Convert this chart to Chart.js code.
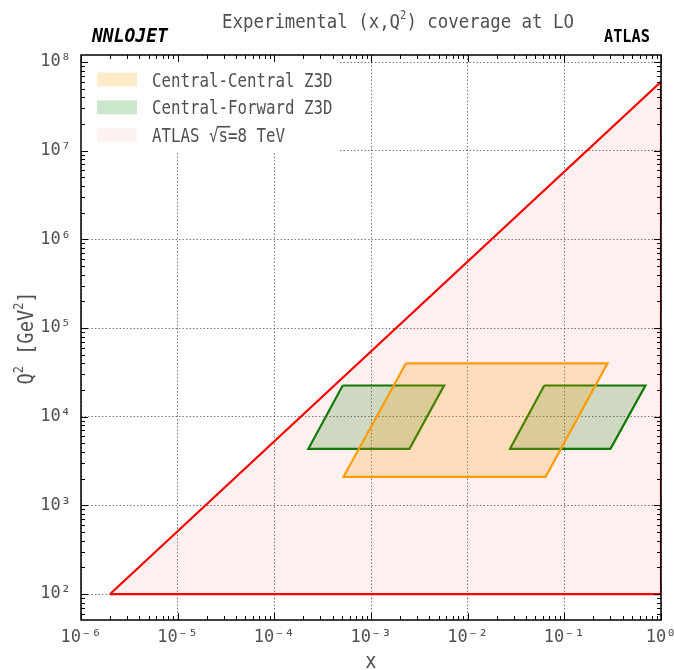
<!DOCTYPE html>
<html><head><meta charset="utf-8">
<script src="https://cdn.jsdelivr.net/npm/chart.js@4.4.1/dist/chart.umd.min.js"></script>
<style>html,body{margin:0;padding:0;background:#fff}#wrap{width:674px;height:670px}</style>
</head><body><div id="wrap"><canvas id="c" width="674" height="670"></canvas></div>
<script>
const FONT = "'DejaVu Sans Mono', 'Liberation Mono', monospace";

// ---- axis ticks ----
const xDecades = [1e-6, 1e-5, 1e-4, 1e-3, 1e-2, 1e-1, 1];
const xTickLabels = ['10⁻⁶', '10⁻⁵', '10⁻⁴', '10⁻³', '10⁻²', '10⁻¹', '10⁰'];
const yDecades = [1e2, 1e3, 1e4, 1e5, 1e6, 1e7, 1e8];
const yTickLabels = ['10²', '10³', '10⁴', '10⁵', '10⁶', '10⁷', '10⁸'];
const xLimits = [1e-6, 1];
const yLimits = [51, 1.2e8];

// ---- series (closed polygons: x, Q^2) ----
const atlasX  = [2e-6, 1, 1, 2e-6];
const atlasQ2 = [100, 6e7, 100, 100];

const ccX  = [2.3e-3, 0.28, 0.064, 5.2e-4, 2.3e-3];
const ccQ2 = [4.0e4, 4.0e4, 2.1e3, 2.1e3, 4.0e4];

const cfLowX  = [5.1e-4, 5.7e-3, 2.5e-3, 2.25e-4, 5.1e-4];
const cfHighX = [0.062, 0.69, 0.30, 0.0274, 0.062];
const cfQ2    = [2.25e4, 2.25e4, 4.35e3, 4.35e3, 2.25e4];

const seriesNames = ['Central-Central Z3D', 'Central-Forward Z3D', 'ATLAS √s=8 TeV'];

const toPts = (xs, ys) => xs.map((x, i) => ({x, y: ys[i]}));

const orangeFill = 'rgba(255,165,0,0.22)';
const greenFill = 'rgba(0,128,0,0.2)';
const redFill = 'rgba(255,0,0,0.06)';
const TXT = '#505050';

function poly(label, xs, ys, border, bg) {
  return {label, data: toPts(xs, ys), showLine: true, fill: 'shape', borderColor: border,
    backgroundColor: bg, borderWidth: 2.2, pointRadius: 0, tension: 0, borderJoinStyle: 'miter'};
}

function drawRich(ctx, segs, x, y, o) {
  const size = o.size, sx = o.sx || 1;
  const mainFont = `${o.style || 'normal'} ${o.weight || 'normal'} ${size}px ${FONT}`;
  const supSize = Math.round(size * 0.62);
  const supFont = `${o.style || 'normal'} ${o.weight || 'normal'} ${supSize}px ${FONT}`;
  ctx.save();
  ctx.translate(x, y);
  if (o.rotate) ctx.rotate(o.rotate);
  ctx.scale(sx, 1);
  ctx.textBaseline = 'alphabetic';
  ctx.textAlign = 'left';
  ctx.fillStyle = o.color || TXT;
  let total = 0;
  const widths = segs.map(s => { ctx.font = s.sup ? supFont : mainFont; const w = ctx.measureText(s.t).width; total += w; return w; });
  let cx = o.align === 'center' ? -total / 2 : (o.align === 'right' ? -total : 0);
  segs.forEach((s, i) => {
    ctx.font = s.sup ? supFont : mainFont;
    ctx.fillText(s.t, cx, s.sup ? -size * 0.45 : 0);
    if (s.over) {
      ctx.strokeStyle = o.color || TXT;
      ctx.lineWidth = 1.6;
      ctx.beginPath();
      ctx.moveTo(cx - widths[i] * 0.15, -size * 0.82);
      ctx.lineTo(cx + widths[i] * 1.25, -size * 0.82);
      ctx.stroke();
    }
    cx += widths[i];
  });
  ctx.restore();
}

const decorPlugin = {
  id: 'decor',
  afterDatasetsDraw(chart) {
    const {ctx, chartArea: a, scales: {x: xs, y: ys}} = chart;
    // legend box
    ctx.save();
    ctx.fillStyle = '#fff';
    ctx.fillRect(a.left, a.top, 259, 98);
    const rows = [79.5, 107.3, 135.3];
    const fills = [orangeFill, greenFill, 'rgba(255,0,0,0.05)'];
    rows.forEach((ry, i) => {
      ctx.fillStyle = fills[i];
      ctx.fillRect(97, ry - 7, 40, 14);
    });
    drawRich(ctx, [{t: seriesNames[0]}], 152, rows[0] + 7, {size: 19, sx: 0.83});
    drawRich(ctx, [{t: seriesNames[1]}], 152, rows[1] + 7, {size: 19, sx: 0.83});
    drawRich(ctx, [{t: 'ATLAS '}, {t: '√'}, {t: 's', over: true}, {t: '=8 TeV'}], 152, rows[2] + 7, {size: 19, sx: 0.83});

    // inward ticks
    ctx.strokeStyle = '#000';
    ctx.lineWidth = 1;
    const xv = [], yv = [];
    for (let e = -6; e <= 0; e++) for (let k = 1; k <= 9; k++) { const v = k * Math.pow(10, e); if (v >= xLimits[0] && v <= xLimits[1] * 1.0001) xv.push([v, k === 1]); }
    for (let e = 1; e <= 8; e++) for (let k = 1; k <= 9; k++) { const v = k * Math.pow(10, e); if (v >= yLimits[0] && v <= yLimits[1]) yv.push([v, k === 1]); }
    ctx.beginPath();
    xv.forEach(([v, maj]) => {
      const p = Math.round(xs.getPixelForValue(v)) + 0.5, L = maj ? 7 : 4;
      ctx.moveTo(p, a.bottom); ctx.lineTo(p, a.bottom - L);
      ctx.moveTo(p, a.top); ctx.lineTo(p, a.top + L);
    });
    yv.forEach(([v, maj]) => {
      const p = Math.round(ys.getPixelForValue(v)) + 0.5, L = maj ? 7 : 4;
      ctx.moveTo(a.left, p); ctx.lineTo(a.left + L, p);
      ctx.moveTo(a.right, p); ctx.lineTo(a.right - L, p);
    });
    ctx.stroke();
    // frame
    ctx.lineWidth = 1.5;
    ctx.strokeRect(a.left, a.top, a.right - a.left, a.bottom - a.top);
    ctx.restore();
  },
  afterDraw(chart) {
    const {ctx, chartArea: a} = chart;
    drawRich(ctx, [{t: 'Experimental (x,Q'}, {t: '2', sup: true}, {t: ') coverage at LO'}], 398, 28, {size: 20, sx: 0.87, align: 'center'});
    drawRich(ctx, [{t: 'NNLOJET'}], 92, 42, {size: 20, sx: 0.9, weight: 'bold', style: 'italic', color: '#000'});
    drawRich(ctx, [{t: 'ATLAS'}], 650, 42, {size: 18, sx: 0.85, weight: 'bold', color: '#000', align: 'right'});
    drawRich(ctx, [{t: 'x'}], (a.left + a.right) / 2, 668, {size: 22, sx: 0.85, align: 'center'});
    drawRich(ctx, [{t: 'Q'}, {t: '2', sup: true}, {t: ' [GeV'}, {t: '2', sup: true}, {t: ']'}], 33, 338, {size: 22, sx: 0.85, align: 'center', rotate: -Math.PI / 2});
  }
};

new Chart(document.getElementById('c'), {
  type: 'scatter',
  data: {
    datasets: [
      poly(seriesNames[2], atlasX, atlasQ2, '#ff0000', redFill),
      poly(seriesNames[0], ccX, ccQ2, '#ffa500', orangeFill),
      poly(seriesNames[1], cfLowX, cfQ2, '#008000', greenFill),
      poly(seriesNames[1], cfHighX, cfQ2, '#008000', greenFill)
    ]
  },
  options: {
    responsive: false, animation: false, devicePixelRatio: 1,
    layout: {padding: {top: 55, right: 13, left: 0, bottom: 0}},
    plugins: {legend: {display: false}, tooltip: {enabled: false}, title: {display: false}},
    scales: {
      x: {
        type: 'logarithmic', min: xLimits[0], max: xLimits[1],
        afterBuildTicks: s => { s.ticks = xDecades.map(v => ({value: v})); },
        afterFit: s => { s.height = 50; s.paddingLeft = 0; s.paddingRight = 0; },
        ticks: {autoSkip: false, maxRotation: 0, padding: 7, color: TXT,
          font: {family: FONT, size: 17}, callback: (v, i) => xTickLabels[i]},
        grid: {color: 'rgba(60,60,60,0.85)', lineWidth: 0.8, drawTicks: false},
        border: {display: false, dash: [1.5, 2]}
      },
      y: {
        type: 'logarithmic', min: yLimits[0], max: yLimits[1],
        afterBuildTicks: s => { s.ticks = yDecades.map(v => ({value: v})); },
        afterFit: s => { s.width = 81; s.paddingTop = 0; s.paddingBottom = 0; },
        ticks: {autoSkip: false, padding: 10, color: TXT,
          font: {family: FONT, size: 17}, callback: (v, i) => yTickLabels[i]},
        grid: {color: 'rgba(60,60,60,0.85)', lineWidth: 0.8, drawTicks: false},
        border: {display: false, dash: [1.5, 2]}
      }
    }
  },
  plugins: [decorPlugin]
});
</script></body></html>
